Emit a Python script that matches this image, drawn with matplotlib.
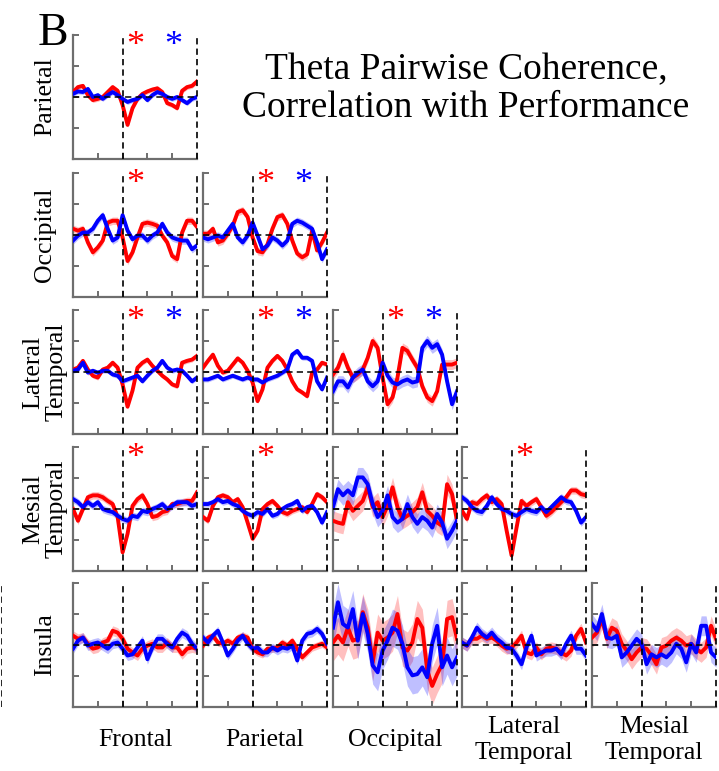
import matplotlib
matplotlib.use("Agg")
import matplotlib.pyplot as plt
import numpy as np

plt.rcParams["font.family"] = ["Liberation Serif", "DejaVu Serif"]
plt.rcParams["lines.scale_dashes"] = False

# time axis (s), shared by every panel
t = np.round(np.arange(-1.0, 1.501, 0.1), 2)

rows = ["Parietal", "Occipital", "Lateral\nTemporal", "Mesial\nTemporal", "Insula"]
cols = ["Frontal", "Parietal", "Occipital", "Lateral\nTemporal", "Mesial\nTemporal"]

# --- Parietal row ---
par_fro_red = [0.08, 0.16, 0.18, 0.03, -0.05, -0.03, 0.0, 0.08, 0.16, 0.10, -0.13, -0.45, -0.18,
               -0.03, 0.05, 0.09, 0.12, 0.14, 0.08, -0.10, -0.13, -0.18, 0.10, 0.16, 0.18, 0.25]
par_fro_blue = [0.05, 0.09, 0.08, 0.13, 0.0, 0.03, -0.03, 0.03, 0.08, 0.03, -0.03, -0.08, -0.05,
                -0.03, 0.03, -0.05, 0.03, 0.08, 0.05, 0.0, -0.03, 0.0, -0.05, -0.10, -0.03, 0.0]

# --- Occipital row ---
occ_fro_red = [0.10, 0.07, 0.10, -0.12, -0.28, -0.20, -0.09, 0.20, 0.23, 0.23, -0.04, -0.42, -0.28,
               -0.04, 0.18, 0.20, 0.18, 0.15, -0.01, -0.12, -0.34, -0.39, 0.04, 0.23, 0.23, 0.13]
occ_fro_blue = [-0.09, -0.01, 0.04, 0.04, 0.10, 0.23, 0.32, 0.10, -0.09, -0.04, 0.32, 0.07, -0.07,
                -0.01, -0.01, -0.09, -0.01, 0.04, 0.18, 0.04, -0.04, -0.07, -0.09, -0.09, -0.23, -0.17]
occ_par_red = [0.02, 0.02, 0.10, -0.12, -0.09, 0.02, 0.15, 0.37, 0.40, 0.29, -0.04, -0.26, -0.28,
               -0.15, 0.10, 0.29, 0.32, 0.18, -0.09, -0.30, -0.36, -0.31, 0.07, -0.25, -0.12, 0.04]
occ_par_blue = [-0.04, -0.07, -0.04, -0.01, -0.04, 0.07, 0.18, -0.04, -0.12, -0.01, 0.20, -0.01, -0.23,
                -0.17, -0.04, -0.09, -0.17, -0.09, 0.18, 0.23, 0.20, 0.15, 0.10, -0.12, -0.39, -0.23]

# --- Lateral temporal row ---
lt_fro_red = [0.04, 0.07, 0.18, 0.04, -0.06, -0.09, 0.04, 0.07, 0.15, 0.07, -0.20, -0.56, -0.30,
              0.07, 0.15, 0.20, 0.10, 0.02, -0.06, -0.12, -0.20, -0.23, 0.15, 0.18, 0.20, 0.26]
lt_fro_blue = [0.02, 0.04, 0.15, -0.01, 0.02, -0.01, 0.02, 0.02, -0.04, -0.06, -0.15, -0.12, -0.09,
               -0.06, -0.15, -0.06, 0.02, 0.07, 0.18, 0.07, 0.02, 0.04, 0.02, -0.06, -0.15, -0.09]
lt_par_red = [0.07, 0.18, 0.28, 0.10, -0.01, 0.02, 0.12, 0.22, 0.15, 0.02, -0.17, -0.47, -0.28,
              0.07, 0.18, 0.26, 0.18, 0.04, -0.15, -0.28, -0.33, -0.39, -0.01, 0.04, 0.15, 0.12]
lt_par_blue = [-0.12, -0.12, -0.09, -0.06, -0.12, -0.09, -0.06, -0.09, -0.12, -0.09, -0.12, -0.12, -0.17,
               -0.12, -0.09, -0.06, -0.01, 0.04, 0.28, 0.34, 0.23, 0.23, 0.18, -0.15, -0.28, -0.09]
lt_occ_red = [-0.04, 0.07, 0.28, 0.07, -0.09, -0.04, 0.04, 0.23, 0.50, 0.39, -0.09, -0.52, -0.41,
              -0.09, 0.39, 0.34, 0.20, 0.07, -0.23, -0.41, -0.47, -0.31, 0.12, 0.12, 0.12, 0.15]
lt_occ_blue = [-0.31, -0.15, -0.15, -0.25, -0.09, -0.01, 0.04, -0.15, -0.23, -0.15, 0.15, -0.06, -0.17,
               -0.20, -0.15, -0.12, -0.17, -0.15, 0.39, 0.50, 0.39, 0.45, 0.28, -0.15, -0.52, -0.31]

# --- Mesial temporal row ---
mt_fro_red = [0.0, -0.19, 0.0, 0.19, 0.22, 0.22, 0.19, 0.13, 0.08, -0.13, -0.70, -0.40, 0.05,
              0.16, 0.22, 0.08, -0.13, -0.11, -0.05, -0.03, 0.08, 0.08, 0.11, 0.13, 0.13, 0.27]
mt_fro_blue = [0.16, 0.11, 0.03, 0.11, 0.05, 0.11, 0.0, -0.03, -0.05, -0.11, -0.16, -0.19, -0.11,
               -0.13, -0.03, -0.05, 0.0, 0.03, 0.08, 0.0, 0.05, 0.11, 0.11, 0.11, 0.05, 0.08]
mt_par_red = [-0.13, -0.19, 0.05, 0.19, 0.22, 0.19, 0.11, 0.16, 0.03, -0.22, -0.48, -0.35, 0.0,
              0.08, 0.13, 0.05, -0.05, -0.08, -0.03, 0.0, 0.03, -0.05, 0.08, 0.24, 0.19, 0.11]
mt_par_blue = [0.08, 0.08, 0.11, 0.16, 0.11, 0.13, 0.08, 0.05, -0.03, -0.08, -0.11, -0.05, -0.08,
               0.0, -0.11, -0.08, 0.0, 0.05, 0.08, 0.13, -0.03, 0.03, 0.05, -0.05, -0.22, -0.05]
mt_occ_red = [-0.19, -0.22, -0.24, 0.11, -0.03, 0.05, 0.13, 0.35, 0.03, 0.11, -0.13, 0.05, 0.35,
              0.03, -0.16, -0.11, -0.05, 0.03, 0.27, -0.03, -0.11, -0.22, -0.27, 0.40, 0.24, -0.19]
mt_occ_blue = [0.03, 0.32, 0.22, 0.30, 0.22, 0.51, 0.51, 0.40, 0.08, -0.13, -0.03, 0.22, -0.13,
               -0.22, -0.16, 0.08, -0.13, -0.24, -0.13, -0.19, -0.30, -0.08, -0.22, -0.48, -0.35, -0.19]
mt_lt_red = [-0.03, -0.16, 0.11, 0.08, 0.16, 0.22, 0.11, 0.16, 0.08, -0.35, -0.75, -0.30, 0.13,
             0.05, 0.11, 0.16, 0.03, -0.11, -0.05, 0.03, 0.11, 0.19, 0.30, 0.30, 0.24, 0.22]
mt_lt_blue = [0.19, 0.13, 0.03, -0.03, -0.05, 0.05, 0.19, 0.08, 0.0, -0.03, -0.08, -0.11, -0.05,
              0.0, -0.03, -0.05, 0.03, -0.05, 0.03, 0.11, 0.19, 0.13, 0.11, -0.03, -0.22, -0.13]

# --- Insula row ---
ins_fro_red = [0.15, 0.10, 0.12, 0.02, -0.06, -0.04, 0.04, 0.07, 0.23, 0.20, 0.10, -0.06, -0.12,
               -0.17, -0.06, -0.01, 0.02, -0.04, -0.04, 0.04, -0.04, -0.04, -0.15, -0.06, -0.04, -0.06]
ins_fro_blue = [-0.06, 0.07, 0.12, -0.01, 0.02, 0.04, -0.01, -0.06, 0.02, 0.04, -0.06, -0.17, -0.15,
                -0.04, 0.07, -0.23, -0.04, 0.10, 0.10, 0.02, -0.04, 0.10, 0.20, 0.15, 0.02, -0.06]
ins_par_red = [-0.01, 0.12, 0.15, 0.04, 0.02, 0.07, 0.02, 0.12, 0.15, 0.12, -0.06, -0.12, -0.15,
               -0.06, -0.06, -0.04, 0.04, -0.01, 0.07, -0.06, -0.20, -0.12, -0.04, -0.01, 0.02, -0.04]
ins_par_blue = [0.12, 0.04, 0.15, 0.23, 0.04, -0.17, -0.06, 0.07, 0.15, 0.02, -0.06, -0.04, -0.12,
                -0.12, -0.04, -0.09, -0.04, -0.06, -0.01, -0.25, 0.07, 0.18, 0.20, 0.26, 0.18, 0.02]
ins_occ_red = [0.04, 0.15, 0.04, 0.28, 0.07, 0.10, 0.53, 0.28, -0.28, 0.20, 0.07, 0.12, 0.20,
               0.50, -0.04, -0.09, 0.04, 0.42, 0.28, -0.41, -0.66, -0.47, -0.31, 0.42, 0.45, 0.10]
ins_occ_blue = [0.28, 0.69, 0.34, 0.28, 0.58, 0.07, 0.50, 0.18, -0.33, -0.44, -0.09, 0.07, 0.28,
                0.23, 0.02, -0.36, -0.49, -0.47, -0.36, -0.52, 0.02, 0.31, -0.36, -0.17, -0.36, -0.20]
ins_lt_red = [0.04, -0.01, 0.10, 0.10, 0.15, 0.10, 0.12, 0.07, -0.01, -0.06, -0.04, 0.04, 0.15,
              -0.12, -0.15, -0.04, -0.15, -0.06, -0.04, -0.06, -0.12, -0.17, -0.09, 0.15, 0.26, 0.04]
ins_lt_blue = [0.04, -0.01, 0.12, 0.28, 0.18, 0.12, 0.20, 0.10, 0.04, -0.04, -0.06, -0.17, -0.31,
               -0.04, 0.15, -0.17, -0.12, -0.09, -0.09, -0.06, -0.15, 0.02, 0.15, -0.06, -0.06, -0.17]
ins_mt_red = [0.12, 0.20, 0.42, 0.10, 0.28, 0.23, 0.02, -0.09, -0.23, -0.12, -0.04, -0.06, -0.17,
              -0.31, -0.04, -0.01, 0.07, 0.12, 0.07, -0.01, 0.02, -0.06, -0.12, -0.04, 0.31, 0.10]
ins_mt_blue = [0.34, 0.23, 0.50, 0.12, 0.10, 0.15, -0.20, -0.12, -0.01, 0.10, 0.02, -0.31, -0.15,
               -0.20, -0.15, -0.20, -0.12, 0.02, -0.06, -0.28, 0.02, -0.12, 0.31, 0.31, -0.12, -0.20]

# (row, col): (red, blue, red band half-width, blue band half-width, red star, blue star)
panels = {
    (0, 0): (par_fro_red, par_fro_blue, 0.04, 0.04, True, True),
    (1, 0): (occ_fro_red, occ_fro_blue, 0.06, 0.06, True, False),
    (1, 1): (occ_par_red, occ_par_blue, 0.06, 0.06, True, True),
    (2, 0): (lt_fro_red, lt_fro_blue, 0.04, 0.04, True, True),
    (2, 1): (lt_par_red, lt_par_blue, 0.04, 0.04, True, True),
    (2, 2): (lt_occ_red, lt_occ_blue, 0.08, 0.09, True, True),
    (3, 0): (mt_fro_red, mt_fro_blue, 0.06, 0.06, True, False),
    (3, 1): (mt_par_red, mt_par_blue, 0.05, 0.05, True, False),
    (3, 2): (mt_occ_red, mt_occ_blue, 0.16, 0.16, False, False),
    (3, 3): (mt_lt_red, mt_lt_blue, 0.06, 0.06, True, False),
    (4, 0): (ins_fro_red, ins_fro_blue, 0.08, 0.08, False, False),
    (4, 1): (ins_par_red, ins_par_blue, 0.06, 0.07, False, False),
    (4, 2): (ins_occ_red, ins_occ_blue, 0.30, 0.30, False, False),
    (4, 3): (ins_lt_red, ins_lt_blue, 0.09, 0.09, False, False),
    (4, 4): (ins_mt_red, ins_mt_blue, 0.16, 0.16, False, False),
}

W, H = 719, 771
col_x = [73, 203, 333, 462, 592]
row_y = [35, 173, 310, 447, 583]
pw, ph = 124, 124
spine_c = "#6e6e6e"
dash = (0, (4.5, 3))

fig = plt.figure(figsize=(W / 100, H / 100), dpi=100)


def style_axes(ax):
    ax.set_xlim(-1, 1.5)
    ax.set_ylim(-1, 1)
    ax.set_xticks(np.arange(-1, 1.51, 0.5))
    ax.set_yticks([-1, -0.5, 0, 0.5, 1])
    ax.set_xticklabels([])
    ax.set_yticklabels([])
    for s in ("top", "right"):
        ax.spines[s].set_visible(False)
    for s in ("left", "bottom"):
        ax.spines[s].set_color(spine_c)
        ax.spines[s].set_linewidth(1.6)
    ax.tick_params(direction="in", length=4, width=1.4, color=spine_c)
    ax.axhline(0, color="k", lw=1.1, ls=dash, zorder=4)
    ax.axvline(0, color="k", lw=1.2, ls=dash, zorder=4)
    ax.axvline(1.5, color="k", lw=1.2, ls=dash, zorder=4, clip_on=False)


for (r, c), (red, blue, rb, bb, rstar, bstar) in panels.items():
    ax = fig.add_axes([col_x[c] / W, 1 - (row_y[r] + ph) / H, pw / W, ph / H])
    style_axes(ax)
    red = np.array(red)
    blue = np.array(blue)
    ax.fill_between(t, red - rb, red + rb, color="red", alpha=0.25, lw=0)
    ax.fill_between(t, blue - bb, blue + bb, color="blue", alpha=0.25, lw=0)
    ax.plot(t, red, color="red", lw=2.8, zorder=3)
    ax.plot(t, blue, color="blue", lw=2.8, zorder=3)
    if rstar:
        ax.text(0.25, 0.82, "*", color="red", fontsize=26, ha="center", va="center")
    if bstar:
        ax.text(1.02, 0.82, "*", color="blue", fontsize=26, ha="center", va="center")

# cropped neighbouring panel at the left edge
ax = fig.add_axes([(2 - pw) / W, 1 - (row_y[4] + ph) / H, pw / W, ph / H])
ax.set_xlim(-1, 1.5)
ax.set_ylim(-1, 1)
ax.axis("off")
ax.axvline(1.5, color="k", lw=1.2, ls=dash)

# row labels
for r, name in enumerate(rows):
    fig.text(45 / W, 1 - (row_y[r] + ph / 2) / H, name, rotation=90, ha="center", va="center",
             fontsize=18.5, linespacing=1.05, multialignment="center")

# column labels
for c, name in enumerate(cols):
    fig.text((col_x[c] + pw / 2) / W, 1 - 740 / H, name, ha="center", va="center",
             fontsize=18.5, linespacing=1.2, multialignment="center")

fig.text(466 / W, 1 - 89 / H, "Theta Pairwise Coherence,\nCorrelation with Performance",
         ha="center", va="center", fontsize=27, linespacing=1.12)
fig.text(38 / W, 1 - 45 / H, "B", ha="left", va="baseline", fontsize=33)

fig.savefig("out.png", dpi=100)
